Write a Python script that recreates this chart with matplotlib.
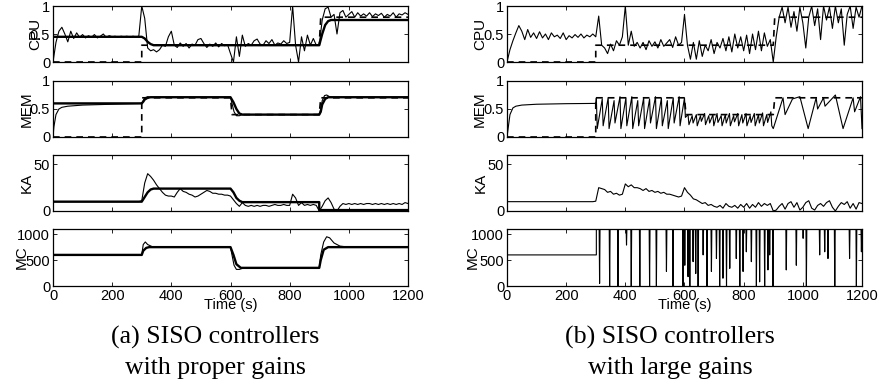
import numpy as np
import matplotlib
matplotlib.use('Agg')
import matplotlib.pyplot as plt

plt.rcParams['font.family'] = ['Liberation Sans', 'DejaVu Sans']

# ---------------- data ----------------
xticks = [0, 200, 400, 600, 800, 1000, 1200]
dt = 10  # sampling step of the noisy traces (s)

# reference (dashed) signals, shared by both panels
ref_cpu_t = [0, 300, 300, 900, 905, 1200]
ref_cpu_v = [0, 0, 0.3, 0.3, 0.8, 0.8]
ref_mem_t = [0, 300, 300, 600, 605, 900, 905, 1200]
ref_mem_v = [0, 0, 0.7, 0.7, 0.4, 0.4, 0.7, 0.7]

# (a) proper gains
cpu_a = [0.00, 0.35, 0.55, 0.62, 0.50, 0.36, 0.55, 0.42, 0.52, 0.44,
         0.49, 0.43, 0.47, 0.44, 0.49, 0.43, 0.46, 0.50, 0.44, 0.47,
         0.45, 0.46, 0.44, 0.46, 0.45, 0.46, 0.44, 0.46, 0.45, 0.46,
         1.00, 0.78, 0.25, 0.20, 0.22, 0.18, 0.22, 0.30, 0.28, 0.45,
         0.55, 0.30, 0.26, 0.34, 0.28, 0.33, 0.25, 0.32, 0.30, 0.40,
         0.42, 0.33, 0.26, 0.32, 0.28, 0.34, 0.27, 0.33, 0.29, 0.31,
         0.15, 0.00, 0.45, 0.10, 0.48, 0.28, 0.33, 0.30, 0.38, 0.41,
         0.32, 0.30, 0.38, 0.33, 0.40, 0.30, 0.34, 0.32, 0.38, 0.33,
         0.35, 1.00, 0.30, 0.00, 0.45, 0.20, 0.48, 0.30, 0.42, 0.30,
         0.30, 0.75, 0.95, 0.98, 0.80, 0.85, 0.50, 0.88, 0.92, 0.80,
         0.85, 0.90, 0.80, 0.88, 0.82, 0.86, 0.82, 0.88, 0.81, 0.86,
         0.83, 0.87, 0.80, 0.85, 0.82, 0.88, 0.80, 0.86, 0.84, 0.88,
         0.85]
cpu_a_model_t = [0, 300, 310, 320, 330, 340, 900, 910, 920, 930, 940, 1200]
cpu_a_model_v = [0.45, 0.45, 0.42, 0.36, 0.32, 0.30, 0.30, 0.50, 0.66, 0.73, 0.75, 0.75]

mem_a_t = [0, 3, 10, 20, 30, 50, 100, 200, 300, 305, 310, 320, 330, 600, 605, 612,
           620, 630, 640, 900, 905, 910, 918, 925, 935, 950, 1200]
mem_a_v = [0.0, 0.18, 0.40, 0.50, 0.53, 0.55, 0.57, 0.585, 0.6, 0.65, 0.70, 0.72, 0.71,
           0.71, 0.60, 0.45, 0.38, 0.38, 0.40, 0.40, 0.50, 0.65, 0.74, 0.75, 0.72, 0.71, 0.71]
mem_a_model_t = [0, 300, 305, 310, 320, 330, 600, 610, 620, 630, 640, 900, 905, 910, 920, 930, 1200]
mem_a_model_v = [0.6, 0.6, 0.63, 0.67, 0.70, 0.71, 0.71, 0.62, 0.50, 0.42, 0.40, 0.40, 0.45,
                 0.58, 0.68, 0.71, 0.71]

ka_a = [10] * 30 + [
    11, 30, 40, 37, 33, 28, 24, 20, 17, 16,
    16, 15, 20, 24, 21, 20, 18, 17, 15, 16,
    18, 20, 22, 21, 19, 19, 18, 18, 17, 17,
    16, 12, 8, 5, 9, 6, 5, 6, 5, 6,
    5, 6, 6, 5, 6, 7, 6, 6, 7, 6,
    6, 18, 14, 6, 9, 6, 7, 6, 7, 6,
    0, 5, 11, 14, 9, 2, 0, 5, 8, 7,
    8, 7, 8, 7, 8, 7, 8, 8, 7, 8,
    7, 8, 7, 8, 7, 8, 7, 8, 7, 9, 8]
ka_a_model_t = [0, 300, 310, 320, 330, 340, 600, 610, 620, 630, 640, 900, 900, 1200]
ka_a_model_v = [10, 10, 15, 20, 23, 24, 24, 20, 14, 11, 9.5, 9.5, 1, 1]

mc_a_t = [0, 300, 305, 312, 320, 335, 360, 600, 605, 612, 620, 630, 640, 660,
          900, 905, 915, 925, 935, 950, 970, 1000, 1200]
mc_a_v = [600, 600, 800, 850, 800, 760, 750, 750, 600, 400, 320, 320, 340, 350,
          350, 600, 850, 950, 930, 830, 770, 750, 750]
mc_a_model_t = [0, 300, 305, 315, 325, 600, 610, 620, 635, 900, 905, 915, 930, 1200]
mc_a_model_v = [600, 600, 680, 735, 750, 750, 600, 420, 350, 350, 500, 700, 750, 750]

# (b) large gains
cpu_b = [0.00, 0.22, 0.38, 0.52, 0.65, 0.55, 0.40, 0.58, 0.44, 0.52,
         0.42, 0.54, 0.43, 0.50, 0.40, 0.52, 0.45, 0.48, 0.42, 0.52,
         0.40, 0.47, 0.43, 0.49, 0.44, 0.50, 0.43, 0.48, 0.45, 0.50,
         0.45, 0.82, 0.30, 0.25, 0.15, 0.32, 0.20, 0.38, 0.30, 0.45,
         1.00, 0.30, 0.55, 0.28, 0.35, 0.25, 0.35, 0.22, 0.38, 0.28,
         0.36, 0.25, 0.40, 0.28, 0.34, 0.40, 0.26, 0.45, 0.30, 0.35,
         0.85, 0.30, 0.05, 0.35, 0.05, 0.38, 0.10, 0.30, 0.20, 0.40,
         0.15, 0.35, 0.25, 0.42, 0.20, 0.45, 0.18, 0.50, 0.25, 0.45,
         0.20, 0.48, 0.15, 0.50, 0.22, 0.55, 0.20, 0.52, 0.28, 0.40,
         0.00, 0.45, 0.80, 0.98, 0.70, 0.98, 0.62, 0.90, 0.55, 0.98,
         0.70, 0.25, 0.80, 1.00, 0.65, 0.95, 0.40, 1.00, 0.75, 0.98,
         0.60, 1.00, 0.70, 0.95, 0.30, 0.85, 1.00, 0.60, 0.98, 0.80,
         1.00]

mem_b_pts = [
    (0, 0.0), (10, 0.40), (20, 0.52), (30, 0.55), (50, 0.57), (100, 0.585), (200, 0.595), (300, 0.6),
    (302, 0.70), (305, 0.15), (322, 0.68), (325, 0.20), (342, 0.70), (345, 0.15), (362, 0.65),
    (365, 0.25), (382, 0.72), (385, 0.15), (402, 0.70), (405, 0.20), (422, 0.72), (425, 0.15),
    (442, 0.65), (445, 0.20), (462, 0.70), (465, 0.15), (482, 0.68), (485, 0.25), (502, 0.72),
    (505, 0.15), (522, 0.70), (525, 0.20), (542, 0.65), (545, 0.15), (562, 0.70), (565, 0.25),
    (582, 0.72), (585, 0.20), (600, 0.70),
    (603, 0.35), (612, 0.40), (615, 0.22), (626, 0.38), (629, 0.25), (640, 0.40), (643, 0.20),
    (654, 0.38), (657, 0.28), (668, 0.42), (671, 0.22), (682, 0.38), (685, 0.25), (696, 0.40),
    (699, 0.20), (710, 0.42), (713, 0.26), (724, 0.38), (727, 0.20), (738, 0.40), (741, 0.25),
    (752, 0.42), (755, 0.20), (766, 0.38), (769, 0.27), (780, 0.42), (783, 0.20), (794, 0.40),
    (797, 0.25), (808, 0.42), (811, 0.20), (822, 0.38), (825, 0.26), (836, 0.42), (839, 0.20),
    (850, 0.40), (853, 0.25), (864, 0.43), (867, 0.20), (878, 0.40), (881, 0.26), (892, 0.45),
    (895, 0.20), (900, 0.15),
    (933, 0.70), (940, 0.40), (965, 0.68), (990, 0.72), (1018, 0.15), (1045, 0.70), (1050, 0.50),
    (1070, 0.70), (1075, 0.55), (1110, 0.75), (1136, 0.15), (1170, 0.70), (1175, 0.45),
    (1195, 0.72), (1200, 0.15)]

ka_b = [10] * 30 + [
    10.5, 25, 24, 23, 20, 21, 18, 19, 17, 18,
    29, 26, 28, 25, 25, 24, 22, 24, 21, 22,
    20, 21, 19, 20, 18, 18, 17, 16, 15, 16,
    25, 20, 17, 13, 12, 10, 8, 9, 6, 7,
    5, 4, 6, 3, 8, 5, 4, 6, 3, 7,
    4, 8, 3, 7, 4, 9, 5, 8, 6, 8,
    0, 1, 5, 8, 2, 8, 10, 4, 9, 1,
    4, 9, 11, 3, 1, 6, 8, 5, 9, 11,
    4, 0, 5, 9, 7, 10, 3, 8, 2, 9, 8]

mc_b_start = 600
mc_b_top = 1150  # saturated above the axis limit
mc_b_spike_t = [313, 347, 375, 404, 420, 449, 482, 505, 539, 561, 595, 601, 612, 618, 629,
                638, 646, 663, 676, 691, 708, 719, 730, 742, 753, 775, 787, 798, 809, 826,
                843, 854, 871, 882, 888, 899, 944, 978, 1001, 1012, 1057, 1074, 1085, 1108,
                1158, 1181, 1198]
mc_b_spike_v = [50, 0, 0, 790, 0, 0, 0, 0, 280, 0, 0, 400, 180, 0, 470,
                240, 0, 600, 0, 280, 530, 0, 150, 0, 340, 530, 0, 280, 660, 470,
                0, 80, 0, 310, 600, 0, 310, 400, 920, 0, 600, 660, 530, 0,
                530, 0, 660]

# ---------------- figure ----------------
fig = plt.figure(figsize=(8.81, 3.90), dpi=100)

lefts = [53 / 881, 507 / 881]
width = 355 / 881
rows = [(62, 56), (137, 56), (211, 56), (286, 57)]  # bottom pixel, height pixel
label_x = [[-0.051, -0.073, -0.073, -0.088], [-0.076, -0.076, -0.073, -0.096]]
names = ['CPU', 'MEM', 'KA', 'MC']
ylims = [(0, 1), (0, 1), (0, 60), (0, 1100)]
yticks = [[0, 0.5, 1], [0, 0.5, 1], [0, 50], [0, 500, 1000]]
ytlabels = [['0', '0.5', '1'], ['0', '0.5', '1'], ['0', '50'], ['0', '500', '1000']]

thin = dict(color='black', lw=0.8)
thick = dict(color='black', lw=1.7)
dash = dict(color='black', lw=1.2, dashes=(4, 3))

axes = []
for p in range(2):
    col = []
    for r, (yb, h) in enumerate(rows):
        ax = fig.add_axes([lefts[p], 1 - yb / 390, width, h / 390])
        ax.set_xlim(0, 1200)
        ax.set_ylim(*ylims[r])
        ax.set_xticks(xticks)
        ax.set_yticks(yticks[r])
        ax.set_yticklabels(ytlabels[r])
        ax.tick_params(direction='in', top=True, right=True, length=3, width=0.6,
                       labelsize=10.5, pad=2)
        if r < 3:
            ax.set_xticklabels([])
        for s in ax.spines.values():
            s.set_linewidth(0.9)
        ax.set_ylabel(names[r], fontsize=11, va='center')
        ax.yaxis.set_label_coords(label_x[p][r], 0.5)
        col.append(ax)
    axes.append(col)

t_a = np.arange(len(cpu_a)) * dt
t_b = np.arange(len(cpu_b)) * dt

# (a)
ax = axes[0][0]
ax.plot(ref_cpu_t, ref_cpu_v, **dash)
ax.plot(t_a, cpu_a, **thin)
ax.plot(cpu_a_model_t, cpu_a_model_v, **thick)

ax = axes[0][1]
ax.plot(ref_mem_t, ref_mem_v, **dash)
ax.plot(mem_a_t, mem_a_v, **thin)
ax.plot(mem_a_model_t, mem_a_model_v, **thick)

ax = axes[0][2]
ax.plot(np.arange(len(ka_a)) * dt, ka_a, **thin)
ax.plot(ka_a_model_t, ka_a_model_v, **thick)

ax = axes[0][3]
ax.plot(mc_a_t, mc_a_v, **thin)
ax.plot(mc_a_model_t, mc_a_model_v, **thick)

# (b)
ax = axes[1][0]
ax.plot(ref_cpu_t, ref_cpu_v, **dash)
ax.plot(t_b, cpu_b, **thin)

ax = axes[1][1]
ax.plot(ref_mem_t, ref_mem_v, **dash)
mt, mv = zip(*mem_b_pts)
ax.plot(mt, mv, **thin)

ax = axes[1][2]
ax.plot(np.arange(len(ka_b)) * dt, ka_b, **thin)

ax = axes[1][3]
mc_t = [0, 302, 302]
mc_v = [mc_b_start, mc_b_start, mc_b_top]
for t, v in zip(mc_b_spike_t, mc_b_spike_v):
    mc_t += [t - 1.5, t, t + 1.5]
    mc_v += [mc_b_top, v, mc_b_top]
mc_t.append(1200)
mc_v.append(mc_b_top)
ax.plot(mc_t, mc_v, **thin)

for p in range(2):
    ax = axes[p][3]
    ax.set_xlabel('Time (s)', fontsize=10.5, va='center')
    ax.xaxis.set_label_coords(0.5, -0.34)

cap_font = dict(family=['Liberation Serif', 'DejaVu Serif'], fontsize=18.6, ha='center', va='center')
fig.text(215 / 881, 1 - 337 / 390, '(a) SISO controllers', **cap_font)
fig.text(215 / 881, 1 - 368 / 390, 'with proper gains', **cap_font)
fig.text(670 / 881, 1 - 337 / 390, '(b) SISO controllers', **cap_font)
fig.text(670 / 881, 1 - 368 / 390, 'with large gains', **cap_font)

fig.savefig('out.png', dpi=100)
